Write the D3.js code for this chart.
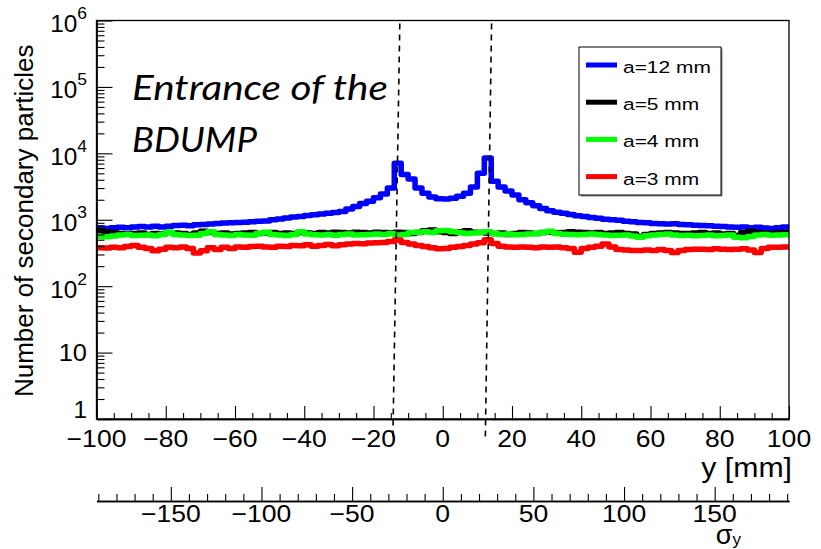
<!DOCTYPE html>
<html>
<head>
<meta charset="utf-8">
<script src="https://cdn.jsdelivr.net/npm/d3@7"></script>
<style>
  html, body { margin: 0; padding: 0; background: #fff; }
  svg { display: block; }
  text { font-family: "Liberation Sans", Arial, Helvetica, sans-serif; fill: #000; }
</style>
</head>
<body>
<svg id="chart" width="821" height="549"></svg>
<script>
// ---- data -------------------------------------------------------------
// 2 mm bins from -100 mm to +100 mm (bin centres -99 ... 99)
const binLow = -100;
const binWidth = 2;

const seriesNames = ["a=12 mm", "a=5 mm", "a=4 mm", "a=3 mm"];
const seriesColors = ["#0000ff", "#000000", "#00ff00", "#ff0000"];

const countsA12 = [
  760, 740, 760, 770, 760, 780, 790, 780, 800, 780,
  800, 820, 830, 810, 840, 850, 860, 880, 890, 900,
  910, 920, 930, 950, 960, 1000, 1030, 1060, 1100, 1120,
  1160, 1190, 1220, 1250, 1290, 1330, 1450, 1580, 1750, 1900,
  2150, 2450, 3000, 7100, 4800, 4100, 3000, 2500, 2200, 2080,
  2060, 2100, 2250, 2500, 3100, 5000, 8500, 3800, 3100, 2700,
  2350, 2000, 1800, 1620, 1480, 1370, 1300, 1250, 1200, 1150,
  1120, 1080, 1050, 1020, 1000, 980, 950, 930, 910, 900,
  880, 870, 860, 870, 850, 840, 830, 820, 810, 800,
  790, 780, 770, 780, 760, 770, 750, 740, 760, 780
];
const countsA5 = [
  680, 660, 640, 620, 610, 620, 630, 600, 620, 610,
  640, 630, 620, 600, 630, 670, 650, 620, 630, 610,
  620, 630, 640, 620, 630, 640, 620, 630, 620, 640,
  630, 620, 640, 630, 650, 640, 630, 650, 640, 630,
  650, 640, 630, 650, 640, 620, 640, 680, 700, 660,
  640, 620, 660, 680, 650, 640, 630, 620, 630, 600,
  620, 640, 630, 620, 640, 650, 630, 640, 660, 650,
  640, 630, 640, 620, 630, 640, 620, 610, 560, 600,
  620, 630, 640, 630, 620, 620, 630, 640, 620, 630,
  610, 620, 580, 640, 670, 640, 630, 620, 640, 650
];
const countsA4 = [
  560, 555, 570, 590, 600, 580, 585, 590, 575, 600,
  650, 600, 590, 580, 585, 620, 660, 600, 590, 580,
  600, 590, 585, 620, 650, 600, 590, 580, 600, 660,
  610, 595, 590, 600, 585, 600, 610, 590, 595, 600,
  610, 600, 615, 590, 600, 640, 650, 660, 640, 680,
  690, 660, 640, 620, 630, 650, 660, 620, 600, 610,
  595, 600, 610, 620, 640, 670, 620, 605, 600, 595,
  600, 610, 600, 590, 580, 585, 590, 570, 545, 575,
  590, 600, 610, 590, 580, 585, 575, 580, 590, 575,
  580, 590, 545, 535, 560, 590, 600, 585, 590, 595
];
const countsA3 = [
  380, 375, 385, 380, 395, 410, 385, 370, 340, 360,
  385, 380, 390, 370, 315, 340, 380, 355, 385, 370,
  390, 385, 395, 400, 390, 385, 400, 395, 410, 405,
  420, 400, 410, 425, 405, 420, 430, 440, 435, 445,
  450, 455, 470, 495, 455, 430, 410, 395, 380, 365,
  370, 385, 395, 410, 430, 450, 500, 440, 400, 390,
  385, 390, 385, 380, 390, 385, 390, 380, 370, 325,
  370, 385, 400, 430, 390, 355, 350, 345, 345, 350,
  345, 355, 345, 320, 345, 355, 360, 360, 355, 365,
  360, 355, 360, 365, 350, 320, 370, 385, 385, 390
];
const seriesCounts = [countsA12, countsA5, countsA4, countsA3];

// axis ticks and labels
const xTickValues = [-100, -80, -60, -40, -20, 0, 20, 40, 60, 80, 100];
const xMinorStep = 5;
const yDecades = [1, 10, 100, 1000, 10000, 100000, 1000000];
const yExponents = [0, 1, 2, 3, 4, 5, 6];
const sigmaTickValues = [-150, -100, -50, 0, 50, 100, 150];
const sigmaMinorStep = 10;
const sigmaRange = [-191, 191];

// beam-edge markers (mm) at the top and bottom of each dashed line
const markerTop = [-12.4, 14.1];
const markerBottom = [-14.4, 12.3];

const titleLines = ["Entrance of the", "BDUMP"];

// ---- layout -----------------------------------------------------------
const plot = { left: 96.5, right: 789, top: 20.5, bottom: 419 };
const svg = d3.select("#chart");

const x = d3.scaleLinear().domain([binLow, binLow + binWidth * countsA12.length]).range([plot.left, plot.right]);
const y = d3.scaleLog().domain([1, 1e6]).range([plot.bottom, plot.top]);
const s = d3.scaleLinear().domain(sigmaRange).range([plot.left, plot.right]);

// text drawn with a horizontal stretch factor
function label(parent, px, py, str, opt) {
  const g = parent.append("g")
    .attr("transform", `translate(${px},${py}) scale(${opt.sx || 1},1)`);
  const t = g.append("text")
    .attr("text-anchor", opt.anchor || "start")
    .style("font-size", opt.size + "px");
  if (opt.family) t.style("font-family", opt.family);
  if (opt.style) t.style("font-style", opt.style);
  if (str !== null) t.text(str);
  return t;
}

// ---- histograms -------------------------------------------------------
svg.append("defs").append("clipPath").attr("id", "plotClip")
  .append("rect")
  .attr("x", plot.left).attr("y", plot.top)
  .attr("width", plot.right - plot.left).attr("height", plot.bottom - plot.top);

const stepLine = d3.line().x(d => x(d[0])).y(d => y(d[1]));
function stepPoints(counts) {
  const pts = [];
  counts.forEach((c, i) => {
    const lo = binLow + i * binWidth;
    pts.push([lo, c], [lo + binWidth, c]);
  });
  return pts;
}

const histG = svg.append("g").attr("clip-path", "url(#plotClip)");
seriesCounts.forEach((counts, i) => {
  histG.append("path")
    .attr("d", stepLine(stepPoints(counts)))
    .attr("fill", "none")
    .attr("stroke", seriesColors[i])
    .attr("stroke-width", 5.5)
    .attr("stroke-linejoin", "round");
});

// ---- frame ------------------------------------------------------------
svg.append("rect")
  .attr("x", plot.left).attr("y", plot.top)
  .attr("width", plot.right - plot.left).attr("height", plot.bottom - plot.top)
  .attr("fill", "none").attr("stroke", "#000").attr("stroke-width", 1.3);

// ---- x axis (mm) ------------------------------------------------------
function styleAxis(g) {
  g.selectAll("path.domain").attr("stroke", "#000").attr("stroke-width", 1.3);
  g.selectAll(".tick line").attr("stroke", "#000").attr("stroke-width", 1.1);
  g.selectAll(".tick text").remove();
}

const xMinor = d3.range(-100, 100.1, xMinorStep).filter(v => !xTickValues.includes(v));
svg.append("g").attr("transform", `translate(0,${plot.bottom})`)
  .call(d3.axisBottom(x).tickValues(xMinor).tickSize(-6).tickSizeOuter(0).tickFormat(""))
  .call(styleAxis);
svg.append("g").attr("transform", `translate(0,${plot.bottom})`)
  .call(d3.axisBottom(x).tickValues(xTickValues).tickSize(-13).tickSizeOuter(0).tickFormat(""))
  .call(styleAxis);

const fmt = d3.format("");
xTickValues.forEach(v => {
  label(svg, x(v), 447, fmt(v), { size: 23.5, sx: 1.13, anchor: "middle" });
});
label(svg, 792, 477, "y [mm]", { size: 27.5, sx: 1.1, anchor: "end" });

// ---- y axis (log) -----------------------------------------------------
const yMinor = [];
yDecades.slice(0, -1).forEach(d => { for (let k = 2; k <= 9; k++) yMinor.push(k * d); });
svg.append("g").attr("transform", `translate(${plot.left},0)`)
  .call(d3.axisLeft(y).tickValues(yMinor).tickSize(-8).tickSizeOuter(0).tickFormat(""))
  .call(styleAxis);
svg.append("g").attr("transform", `translate(${plot.left},0)`)
  .call(d3.axisLeft(y).tickValues(yDecades).tickSize(-16).tickSizeOuter(0).tickFormat(""))
  .call(styleAxis);

yDecades.forEach((v, i) => {
  const e = yExponents[i];
  if (e === 0) {
    // lowest label sits just above the x axis
    label(svg, 87, y(v) - 1, String(v), { size: 23, sx: 1.06, anchor: "end" });
  } else if (e === 1) {
    label(svg, 87, y(v) + 8.5, String(v), { size: 24, sx: 1.06, anchor: "end" });
  } else {
    const t = label(svg, 87, y(v) + 11.5, null, { size: 23, sx: 1.06, anchor: "end" });
    t.append("tspan").text("10");
    t.append("tspan").attr("dy", -13).style("font-size", "16.5px").text(String(e));
  }
});

svg.append("text")
  .attr("transform", `translate(33,${(plot.top + plot.bottom) / 2 + 1}) rotate(-90)`)
  .attr("text-anchor", "middle")
  .style("font-size", "26px")
  .text("Number of secondary particles");

// ---- second axis in units of sigma -----------------------------------
const sigmaAxisY = 501;
const sMinor = d3.range(-190, 190.1, sigmaMinorStep).filter(v => !sigmaTickValues.includes(v));
svg.append("g").attr("transform", `translate(0,${sigmaAxisY})`)
  .call(d3.axisBottom(s).tickValues(sMinor).tickSize(-7).tickSizeOuter(0).tickFormat(""))
  .call(styleAxis);
svg.append("g").attr("transform", `translate(0,${sigmaAxisY})`)
  .call(d3.axisBottom(s).tickValues(sigmaTickValues).tickSize(-14).tickSizeOuter(0).tickFormat(""))
  .call(styleAxis);
sigmaTickValues.forEach(v => {
  label(svg, s(v), 522, fmt(v), { size: 23.5, sx: 1.13, anchor: "middle" });
});
const sigLab = label(svg, 741, 544, null, { size: 27, sx: 1.0, anchor: "end" });
sigLab.append("tspan").text("σ");
sigLab.append("tspan").attr("dy", 1).style("font-size", "17px").text("y");

// ---- beam-edge markers --------------------------------------------------
markerTop.forEach((mt, i) => {
  svg.append("line")
    .attr("x1", x(mt)).attr("y1", plot.top + 3)
    .attr("x2", x(markerBottom[i])).attr("y2", plot.bottom + 18)
    .attr("stroke", "#000").attr("stroke-width", 1.6)
    .attr("stroke-dasharray", "6,5");
});

// ---- title ------------------------------------------------------------
const titleWidths = [256, 125];
titleLines.forEach((line, i) => {
  const t = svg.append("text")
    .attr("x", 132).attr("y", 100 + i * 52)
    .style("font-family", "Lato, 'Open Sans', sans-serif")
    .style("font-style", "italic")
    .style("font-size", "35px")
    .text(line);
  const w = t.node().getComputedTextLength();
  t.attr("transform", `translate(132,0) scale(${titleWidths[i] / w},1) translate(-132,0)`);
});

// ---- legend -----------------------------------------------------------
const legend = { x: 579, y: 47, w: 142, h: 148 };
svg.append("rect")
  .attr("x", legend.x + 1.5).attr("y", legend.y + 1.5)
  .attr("width", legend.w).attr("height", legend.h)
  .attr("fill", "#888");
svg.append("rect")
  .attr("x", legend.x).attr("y", legend.y)
  .attr("width", legend.w).attr("height", legend.h)
  .attr("fill", "#fff").attr("stroke", "#000").attr("stroke-width", 1);

seriesNames.forEach((name, i) => {
  const cy = 65 + i * 37.2;
  svg.append("line")
    .attr("x1", 586).attr("x2", 617).attr("y1", cy).attr("y2", cy)
    .attr("stroke", seriesColors[i]).attr("stroke-width", 5);
  label(svg, 623, cy + 8, name, { size: 16.5, sx: 1.27, anchor: "start" });
});
</script>
</body>
</html>
